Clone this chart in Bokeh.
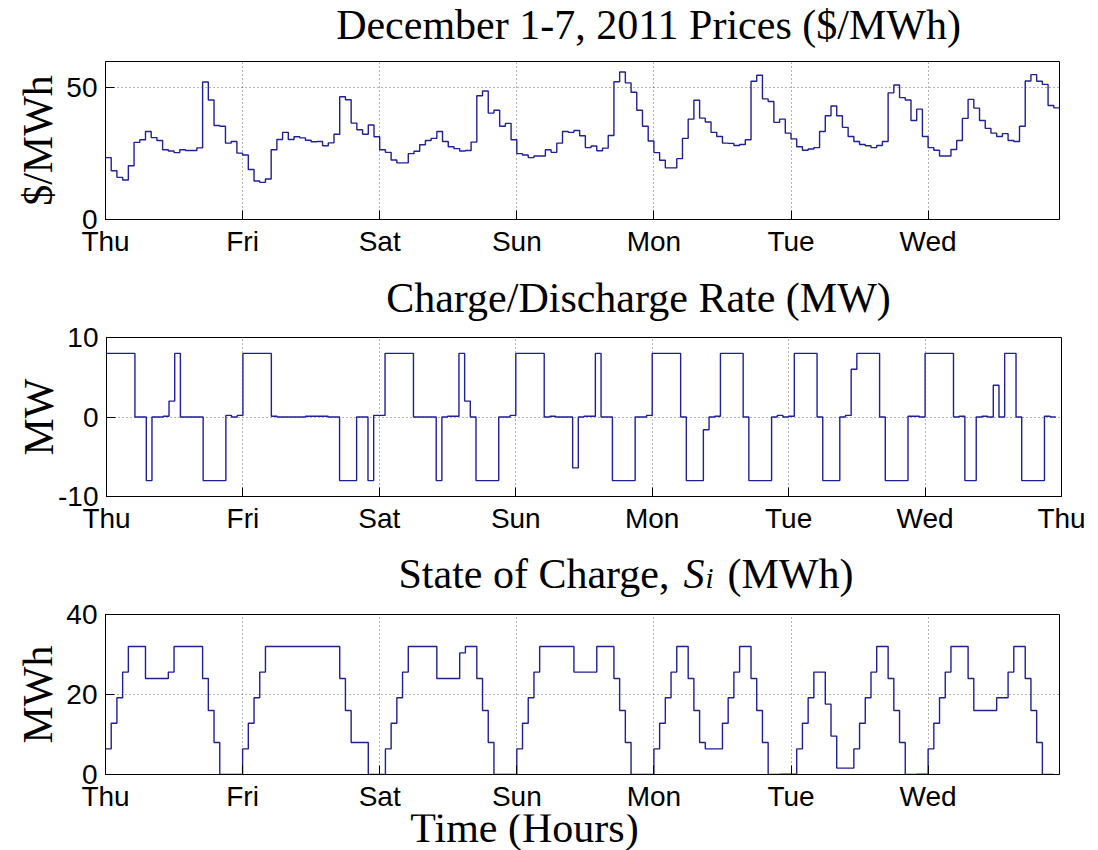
import math
import numpy as np
from bokeh.plotting import figure
from bokeh.models import Range1d, FixedTicker, Label
from bokeh.layouts import column
from bokeh.embed import file_html
from bokeh.resources import INLINE

day_names = ["Thu", "Fri", "Sat", "Sun", "Mon", "Tue", "Wed", "Thu"]
day_ticks = [0, 24, 48, 72, 96, 120, 144, 168]

# hourly price, $/MWh (hours 0..166)
price = [
    23.5, 18.5, 16.0, 15.0, 20.4, 29.3, 30.3, 33.4, 31.1, 30.0, 26.5, 26.0, 25.4, 26.5, 26.2, 26.2, 27.2, 52.2, 45.4, 35.7, 35.4, 29.0, 29.6, 25.2,
    24.5, 19.0, 14.6, 14.1, 15.4, 26.5, 30.4, 33.1, 30.4, 31.4, 31.0, 30.1, 29.5, 29.6, 28.0, 29.1, 32.4, 46.6, 45.5, 36.6, 34.1, 32.4, 35.9, 31.4,
    26.5, 25.5, 22.6, 21.5, 21.5, 25.0, 25.9, 28.4, 30.0, 30.8, 33.4, 29.6, 27.6, 26.9, 26.0, 26.2, 29.4, 47.0, 48.8, 40.4, 41.5, 35.4, 36.5, 30.3,
    25.0, 24.5, 23.5, 24.1, 24.1, 26.5, 25.5, 29.0, 33.4, 33.1, 33.8, 31.8, 27.3, 27.9, 26.1, 27.1, 31.9, 52.3, 56.0, 51.9, 48.3, 41.5, 35.4, 29.8,
    25.4, 22.5, 19.6, 19.6, 23.1, 30.8, 38.1, 45.3, 38.5, 37.0, 33.1, 31.5, 29.0, 28.9, 28.1, 28.5, 30.3, 52.5, 54.8, 45.8, 44.8, 36.9, 38.1, 32.8,
    30.6, 27.6, 26.3, 26.8, 27.3, 33.4, 39.4, 43.1, 39.4, 35.0, 31.5, 29.6, 28.5, 28.0, 27.3, 28.1, 29.6, 48.1, 51.1, 46.3, 45.4, 37.6, 41.9, 31.5,
    27.3, 26.3, 24.1, 24.1, 26.6, 30.0, 38.4, 45.6, 42.3, 37.6, 34.6, 32.8, 31.5, 32.6, 30.0, 29.6, 35.4, 52.6, 55.0, 52.5, 51.3, 43.3, 42.4,
]

# charge (+) / discharge (-) rate, MW (hours 0..166)
rate = [
    8, 8, 8, 8, 8, 0, 0, -8, 0, 0, 0.1, 2, 8, 0, 0, 0, 0, -8, -8, -8, -8, 0.2, 0, 0.2,
    8, 8, 8, 8, 8, 0.1, 0, 0, 0, 0, 0, 0.1, 0.1, 0.1, 0.1, 0, 0, -8, -8, -8, 0, 0, -8, 0.2,
    0.2, 8, 8, 8, 8, 8, 0, 0, 0, 0, -8, 0, 0.1, 0.1, 8, 2, 0, -8, -8, -8, -8, 0, 0, 0.2,
    8, 8, 8, 8, 8, 0, 0.1, 0, 0, 0, -6.4, 0, 0.1, 0.1, 8, 0, 0, -8, -8, -8, -8, 0, 0, 0.2,
    8, 8, 8, 8, 8, 0, -8, -8, -8, -1.6, 0, 0.1, 8, 8, 8, 8, 0, -8, -8, -8, -8, 0, 0.2, 0,
    0.1, 8, 8, 8, 8, 0, -8, -8, -8, 0, 0.2, 6, 8, 8, 8, 8, 0, -8, -8, -8, -8, 0.1, 0.1, 0,
    8, 8, 8, 8, 8, 0, 0.1, -8, -8, 0, 0.1, 0, 4, 0, 8, 8, 0, -8, -8, -8, -8, 0.1, 0,
]

# state of charge, MWh (hours 0..165)
soc = [
    6.4, 12.8, 19.2, 25.6, 32, 32, 32, 24, 24, 24, 24, 25.6, 32, 32, 32, 32, 32, 24, 16, 8, 0, 0, 0, 0,
    6.4, 12.8, 19.2, 25.6, 32, 32, 32, 32, 32, 32, 32, 32, 32, 32, 32, 32, 32, 24, 16, 8, 8, 8, 0, 0,
    0, 6.4, 12.8, 19.2, 25.6, 32, 32, 32, 32, 32, 24, 24, 24, 24, 30.4, 32, 32, 24, 16, 8, 0, 0, 0, 0,
    6.4, 12.8, 19.2, 25.6, 32, 32, 32, 32, 32, 32, 25.6, 25.6, 25.6, 25.6, 32, 32, 32, 24, 16, 8, 0, 0, 0, 0,
    6.4, 12.8, 19.2, 25.6, 32, 32, 24, 16, 8, 6.4, 6.4, 6.4, 12.8, 19.2, 25.6, 32, 32, 24, 16, 8, 0, 0, 0.1, 0.1,
    0.1, 6.4, 12.8, 19.2, 25.6, 25.6, 17.6, 9.6, 1.6, 1.6, 1.6, 6.4, 12.8, 19.2, 25.6, 32, 32, 24, 16, 8, 0, 0, 0.1, 0.1,
    6.4, 12.8, 19.2, 25.6, 32, 32, 32, 24, 16, 16, 16, 16, 19.2, 19.2, 25.6, 32, 32, 24, 16, 8, 0, 0,
]

LINE = "#1f1f96"
SERIF = "Liberation Serif"
SANS = "Liberation Sans"
TITLE_PX = "42px"
TOTAL_W = 1096


def make_fig(frame_w, frame_h, left, top, bottom, xend, yr, yticks, xticks, ylabel, label_standoff):
    p = figure(frame_width=frame_w, frame_height=frame_h,
               min_border_left=left, min_border_right=TOTAL_W - left - frame_w,
               min_border_top=top, min_border_bottom=bottom,
               x_range=Range1d(0, xend), y_range=Range1d(*yr),
               output_backend="svg", toolbar_location=None, tools="")
    p.frame_align = False
    p.background_fill_color = "white"
    p.border_fill_color = "white"
    p.outline_line_color = "black"
    p.outline_line_width = 1
    p.xaxis.ticker = FixedTicker(ticks=xticks)
    p.xaxis.major_label_overrides = {t: day_names[day_ticks.index(t)] for t in xticks}
    p.yaxis.ticker = FixedTicker(ticks=yticks)
    p.yaxis.major_label_overrides = {t: str(t) for t in yticks}
    for ax in (p.xaxis[0], p.yaxis[0]):
        ax.major_label_text_font = SANS
        ax.major_label_text_font_size = "28px"
        ax.major_label_text_color = "black"
        ax.major_tick_in = 9
        ax.major_tick_out = 0
        ax.major_tick_line_color = "black"
        ax.minor_tick_line_color = None
        ax.axis_line_color = "black"
    p.xaxis.major_label_standoff = 6
    p.yaxis.major_label_standoff = 8
    p.yaxis.axis_label = ylabel
    p.yaxis.axis_label_text_font = SERIF
    p.yaxis.axis_label_text_font_size = TITLE_PX
    p.yaxis.axis_label_text_font_style = "normal"
    p.yaxis.axis_label_text_color = "black"
    p.yaxis.axis_label_standoff = label_standoff
    p.grid.grid_line_color = "black"
    p.grid.grid_line_alpha = 0.6
    p.grid.grid_line_dash = "1 3"
    p.grid.grid_line_width = 1
    return p


def banner(height):
    b = figure(width=TOTAL_W, height=height,
               min_border=0, min_border_left=0, min_border_right=0,
               min_border_top=0, min_border_bottom=0,
               x_range=Range1d(0, 1), y_range=Range1d(0, 1),
               x_axis_location=None, y_axis_location=None,
               output_backend="svg", toolbar_location=None, tools="")
    b.frame_align = False
    b.outline_line_color = None
    b.grid.visible = False
    b.background_fill_color = "white"
    b.border_fill_color = "white"
    return b


def stairs(p, vals):
    x = np.arange(len(vals) + 1)
    y = np.append(np.asarray(vals, dtype=float), vals[-1])
    p.step(x, y, mode="after", line_color=LINE, line_width=1.4)


def text(p, x, y, s, size=TITLE_PX, style="normal", align="left"):
    p.add_layout(Label(x=x, y=y, x_units="screen", y_units="screen", text=s,
                       text_font=SERIF, text_font_size=size, text_font_style=style,
                       text_align=align, text_baseline="alphabetic", text_color="black"))


# title 1 (canvas 0-53)
t1 = banner(53)
text(t1, 648, 29, "December 1-7, 2011 Prices ($/MWh)", align="center")

# Panel 1: prices (53-264)
p1 = make_fig(954, 158, 105, 8, 45, len(price), (0, 60), [0, 50], day_ticks[:7], "$/MWh", 2)
stairs(p1, price)

# title 2 (264-321)
t2 = banner(57)
text(t2, 638, 24, "Charge/Discharge Rate (MW)", align="center")

# Panel 2: charge/discharge rate (321-541)
p2 = make_fig(955, 159, 106, 16, 45, 168, (-10, 10), [-10, 0, 10], day_ticks, "MW", -7)
stairs(p2, rate)

# title 3 with italic S_i (541-598)
t3 = banner(57)
text(t3, 398, 25, "State of Charge,")
text(t3, 683, 25, "S", style="italic")
text(t3, 705, 21, "i", size="29px", style="italic")
text(t3, 727, 25, "(MWh)")

# Panel 3: state of charge (598-812)
p3 = make_fig(954, 160, 105, 16, 38, len(price), (0, 40), [0, 20, 40], day_ticks[:7], "MWh", 2)
stairs(p3, soc)

# x label (812-849)
xl = banner(37)
text(xl, 524, 24, "Time (Hours)", align="center")

layout = column(t1, p1, t2, p2, t3, p3, xl)
open("out.html", "w").write(file_html(layout, INLINE))
